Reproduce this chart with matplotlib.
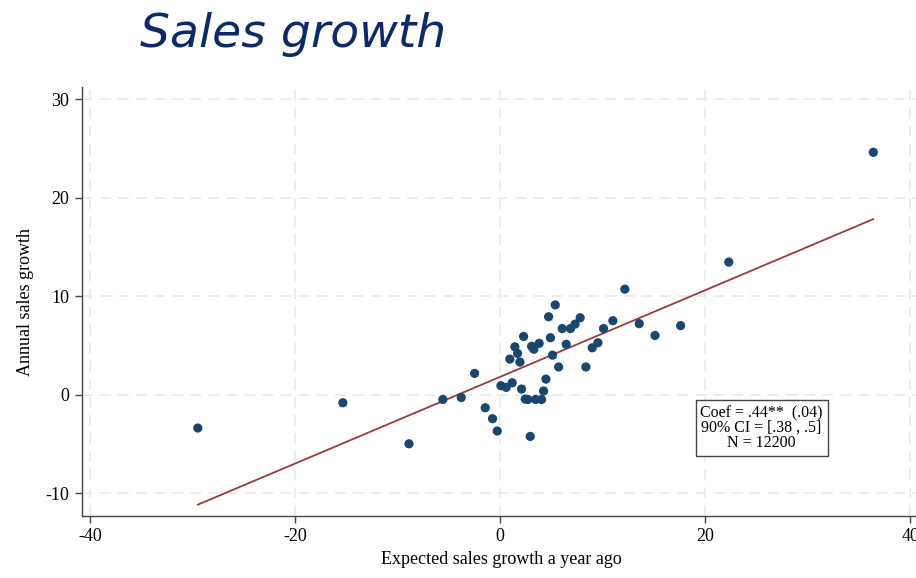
import numpy as np
import matplotlib.pyplot as plt

plt.rcParams["axes.unicode_minus"] = False

# ---------------- Binned data ----------------
expected = [-29.5, -15.35, -8.9, -5.6, -3.8, -2.5, -1.46, -0.75, -0.29,
            0.07, 0.59, 1.17, 2.08, 2.44, 2.7, 2.93, 3.45, 4.03, 4.23, 4.46,
            0.94, 1.43, 1.69, 1.92, 2.28, 3.06, 3.28, 3.8, 4.72, 5.37, 4.9,
            5.1, 5.7, 6.05, 6.44, 6.86, 7.3, 7.8, 8.36, 8.98, 9.53, 10.08,
            10.99, 12.16, 13.56, 15.1, 17.6, 22.3, 36.4]
actual = [-3.4, -0.83, -5.0, -0.5, -0.3, 2.15, -1.34, -2.45, -3.7,
          0.9, 0.73, 1.2, 0.56, -0.46, -0.5, -4.25, -0.5, -0.5, 0.36, 1.57,
          3.6, 4.85, 4.18, 3.3, 5.9, 4.9, 4.6, 5.2, 7.9, 9.1, 5.77,
          4.0, 2.8, 6.7, 5.1, 6.7, 7.15, 7.8, 2.8, 4.75, 5.26, 6.7,
          7.5, 10.7, 7.2, 6.0, 7.0, 13.45, 24.6]

coef = 0.44
intercept = 1.8
stats_text = "Coef = .44**  (.04)\n90% CI = [.38 , .5]\nN = 12200"

xticks = [-40, -20, 0, 20, 40]
yticks = [-10, 0, 10, 20, 30]

# ---------------- Figure ----------------
fig = plt.figure(figsize=(9.16, 5.78), dpi=100)
ax = fig.add_axes([0.0895, 0.1073, 0.9154, 0.742])

serif = ["Liberation Serif", "DejaVu Serif"]

ax.set_xlim(-40.8, 41.0)
ax.set_ylim(-12.33, 31.22)

ax.set_xticks(xticks)
ax.set_yticks(yticks)
ax.set_xticklabels([str(v) for v in xticks], fontfamily=serif, fontsize=13)
ax.set_yticklabels([str(v) for v in yticks], fontfamily=serif, fontsize=13)
ax.tick_params(axis="both", direction="out", length=5, width=1, color="#444444",
               labelcolor="black", pad=4)

for s in ["top", "right"]:
    ax.spines[s].set_visible(False)
for s in ["left", "bottom"]:
    ax.spines[s].set_color("#444444")
    ax.spines[s].set_linewidth(1.0)

ax.grid(True, color="#ebebeb", linestyle=(0, (6, 4)), linewidth=1.3)
ax.set_axisbelow(True)

# ---------------- Points and fit ----------------
ax.scatter(expected, actual, s=44, color="#1a476f", edgecolors="none", zorder=3)

xs = np.array([min(expected), max(expected)])
ax.plot(xs, intercept + coef * xs, color="#9a3b3f", linewidth=1.3, zorder=2)

ax.text(25.5, -3.4, stats_text, fontfamily=serif, fontsize=11.5, ha="center",
        va="center", linespacing=0.92, zorder=4,
        bbox=dict(boxstyle="square,pad=0.3", facecolor="white",
                  edgecolor="#444444", linewidth=1.0))

ax.set_xlabel("Expected sales growth a year ago", fontfamily=serif, fontsize=13,
              labelpad=4)
ax.set_ylabel("Annual sales growth", fontfamily=serif, fontsize=13, labelpad=8)

fig.text(0.153, 0.94, "Sales growth", fontfamily="DejaVu Sans", style="oblique",
         fontsize=34, color="#0c2a6b", ha="left", va="center")

fig.savefig("out.png", dpi=100)
